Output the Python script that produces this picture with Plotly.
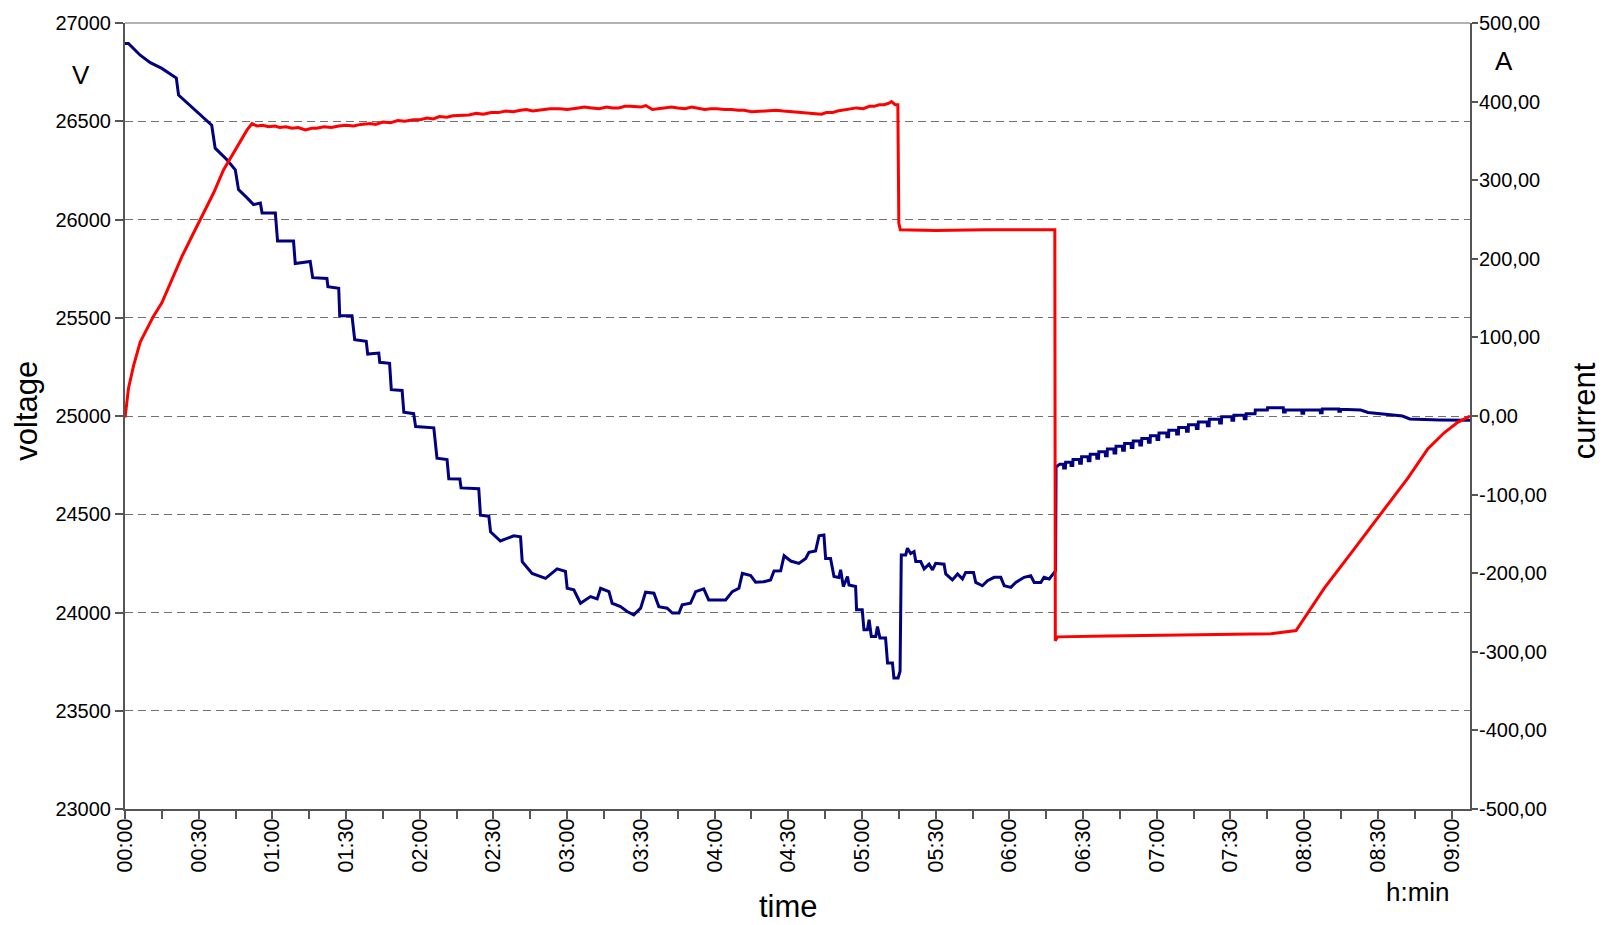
import plotly.graph_objects as go

# ---------------- data ----------------
# time in minutes since start
volt_t = [0, 1.4, 6.2, 10.3, 15.0, 19.8, 20.9, 21.8, 27.9, 34.7, 35.3, 36.7, 41.5, 44.9, 46.2, 49.7,
          52.3, 55.1, 55.8, 61.2, 62.1, 68.6, 69.3, 75.4, 76.4, 82.2, 82.6, 87.0, 87.4, 92.4, 93.5,
          98.2, 98.8, 103.3, 103.7, 107.7, 108.4, 112.8, 113.5, 117.5, 118.3, 125.7, 127.0, 131.1,
          131.8, 136.3, 136.8, 144.0, 144.7, 148.1, 148.8, 152.8, 158.2, 161.0, 161.7, 165.7, 171.2,
          175.9, 179.3, 180.0, 182.7, 185.4, 189.5, 192.2, 193.6, 197.0, 198.3, 201.7, 204.4, 207.1,
          209.9, 211.9, 215.3, 217.3, 220.7, 222.8, 225.5, 226.8, 230.2, 232.3, 235.6, 237.6, 244.5,
          247.2, 249.9, 251.3, 254.7, 256.7, 260.1, 262.8, 264.2, 266.9, 268.3, 271.0, 274.3, 277.1,
          278.4, 281.1, 282.5, 284.5, 285.2, 287.2, 288.6, 290.6, 291.3, 292.4, 294.1, 294.7, 297.4,
          297.8, 300.1, 300.8, 302.2, 302.9, 303.8, 305.6, 306.3, 307.3, 309.6, 310.4, 312.4, 313.0,
          314.7, 315.5, 316.0, 317.8, 318.5, 319.8, 321.2, 321.9, 323.9, 325.3, 327.3, 328.7, 330.0,
          333.4, 334.1, 336.8, 338.9, 340.9, 342.2, 345.4, 346.3, 349.0, 351.1, 353.8, 356.5, 357.9,
          360.6, 362.6, 366.0, 368.7, 370.1, 372.8, 374.1, 376.2, 378.2, 378.8, 379.0, 380.5,
          382.0, 382.1, 382.8, 382.9, 385.0, 385.1, 385.8, 385.9, 388.5, 388.6, 389.3, 389.4,
          392.0, 392.1, 392.8, 392.9, 395.5, 395.6, 396.3, 396.4, 399.0, 399.1, 399.8, 399.9,
          402.5, 402.6, 403.3, 403.4, 406.0, 406.1, 406.8, 406.9, 409.5, 409.6, 410.3, 410.4,
          413.0, 413.1, 413.8, 413.9, 416.5, 416.6, 417.3, 417.4, 420.0, 420.1, 420.8, 420.9,
          424.0, 424.1, 424.8, 424.9, 428.0, 428.1, 428.8, 428.9, 432.0, 432.1, 432.8, 432.9,
          436.0, 436.1, 436.8, 436.9, 440.5, 440.6, 441.3, 441.4, 445.5, 445.6, 446.3, 446.4,
          450.5, 450.6, 451.3, 451.4, 455.5, 455.6, 456.3, 456.4, 460.0, 460.1, 465.0, 465.1,
          471.5, 471.6, 472.3, 472.4, 479.0, 479.1, 479.8, 479.9, 486.5, 486.6, 487.3, 487.4,
          494.0, 494.1, 494.8, 494.9, 503.0, 506.0, 520.0, 523.0, 535.0, 547.5]
volt_v = [26896, 26896, 26836, 26798, 26769, 26727, 26720, 26633, 26566, 26490, 26480, 26363, 26304,
          26253, 26152, 26110, 26076, 26084, 26033, 26033, 25890, 25890, 25776, 25786, 25704, 25700,
          25658, 25650, 25510, 25510, 25388, 25380, 25315, 25320, 25273, 25268, 25134, 25130, 25019,
          25012, 24946, 24940, 24785, 24778, 24681, 24680, 24634, 24630, 24495, 24490, 24411, 24364,
          24390, 24385, 24259, 24199, 24174, 24222, 24209, 24123, 24115, 24047, 24081, 24069, 24123,
          24106, 24047, 24030, 24005, 23988, 24022, 24103, 24098, 24030, 24022, 23997, 23997, 24039,
          24047, 24106, 24120, 24064, 24064, 24106, 24123, 24199, 24188, 24154, 24157, 24166, 24211,
          24212, 24289, 24262, 24250, 24275, 24306, 24313, 24390, 24394, 24275, 24275, 24183, 24178,
          24217, 24132, 24183, 24140, 24132, 24014, 24014, 23912, 23912, 23963, 23878, 23878, 23929,
          23870, 23870, 23743, 23743, 23667, 23667, 23701, 24293, 24293, 24327, 24300, 24310, 24259,
          24259, 24222, 24246, 24217, 24250, 24246, 24196, 24166, 24196, 24171, 24204, 24204, 24153,
          24136, 24162, 24179, 24179, 24136, 24128, 24153, 24179, 24187, 24153, 24153, 24179, 24171,
          24204, 24212, 24740, 24755,
          24755, 24735, 24735, 24765, 24765, 24748, 24748, 24778, 24778, 24760, 24760, 24792,
          24792, 24772, 24772, 24805, 24805, 24785, 24785, 24818, 24818, 24798, 24798, 24832,
          24832, 24812, 24812, 24846, 24846, 24826, 24826, 24860, 24860, 24840, 24840, 24873,
          24873, 24853, 24853, 24886, 24886, 24866, 24866, 24900, 24900, 24880, 24880, 24914,
          24914, 24894, 24894, 24928, 24928, 24908, 24908, 24942, 24942, 24922, 24922, 24956,
          24956, 24936, 24936, 24970, 24970, 24950, 24950, 24984, 24984, 24964, 24964, 24996,
          24996, 24978, 24978, 25004, 25004, 24986, 24986, 25012, 25012, 25030, 25030, 25042,
          25042, 25020, 25020, 25030, 25030, 25014, 25014, 25030, 25030, 25016, 25016, 25036,
          25036, 25024, 25024, 25034, 25030, 25018, 25000, 24985, 24980, 24978]

curr_t = [0, 0.1, 1.4, 3.5, 6.2, 8.9, 11.6, 15.0, 19.1, 23.2, 27.3, 31.3, 36.1, 40.1, 45.6, 49.7,
          51.7, 53.7, 56.0, 58.5, 61.0, 63.0, 65.5, 68.0, 70.5, 73.4, 76.0, 78.0, 81.0, 84.0, 87.0,
          90.0, 93.0, 96.0, 99.9, 102.0, 105.0, 108.0, 111.0, 114.0, 117.4, 120.0, 123.0, 125.5,
          128.0, 131.0, 133.5, 137.0, 140.0, 143.0, 145.9, 149.0, 152.0, 155.0, 158.0, 161.0, 163.4,
          166.0, 170.0, 173.0, 177.0, 180.0, 184.6, 187.0, 190.0, 193.0, 196.0, 198.5, 201.0, 203.5,
          205.8, 208.0, 210.0, 212.0, 214.7, 217.0, 220.0, 222.5, 225.0, 228.0, 230.6, 233.0, 235.9,
          238.5, 241.0, 244.0, 247.0, 249.5, 252.0, 255.0, 258.7, 261.5, 265.0, 268.0, 271.3, 274.0,
          277.0, 280.0, 283.5, 285.5, 288.0, 290.0, 292.0, 295.0, 297.8, 300.5, 303.0, 305.0, 307.0,
          309.0, 310.0, 311.0, 312.0, 313.5, 314.6, 315.0, 315.6, 330.0, 350.0, 370.0, 378.5, 378.7,
          379.6, 400.0, 430.0, 454.3, 466.5, 476.7, 488.2, 500.4, 512.6, 522.2, 530.3, 537.1, 542.5,
          547.5]
curr_a = [0, 0, 35, 64, 94, 111, 127, 144, 174, 203, 229, 254, 284, 313, 343, 364,
          372, 369, 370, 368, 369, 367, 368, 366, 367, 364, 366, 366, 368, 367, 369,
          370, 369, 371, 372, 371, 374, 373, 376, 375, 377, 377, 379, 378,
          381, 380, 382, 383, 383, 385, 384, 386, 386, 388, 387, 389, 390,
          388, 390, 391, 391, 390, 392, 393, 392, 391, 393, 392, 392, 394,
          394, 393, 393, 395, 390, 391, 392, 393, 392, 391, 393, 392, 390,
          391, 391, 390, 390, 389, 389, 387, 388, 388, 389, 388, 387, 387,
          386, 385, 384, 386, 386, 388, 389, 390, 392, 391, 394, 394, 396,
          396, 397, 398, 400, 396, 396, 245, 237, 236, 237, 237, 237, -286,
          -281, -280, -279, -278, -277, -273, -219, -169, -118, -79, -42, -21, -8,
          0]

x_tick_vals = [0, 15, 30, 45, 60, 75, 90, 105, 120, 135, 150, 165, 180, 195, 210, 225, 240, 255,
               270, 285, 300, 315, 330, 345, 360, 375, 390, 405, 420, 435, 450, 465, 480, 495, 510,
               525, 540]
x_tick_text = ["00:00", "", "00:30", "", "01:00", "", "01:30", "", "02:00", "", "02:30", "",
               "03:00", "", "03:30", "", "04:00", "", "04:30", "", "05:00", "", "05:30", "",
               "06:00", "", "06:30", "", "07:00", "", "07:30", "", "08:00", "", "08:30", "", "09:00"]
v_tick_vals = [23000, 23500, 24000, 24500, 25000, 25500, 26000, 26500, 27000]
v_tick_text = ["23000", "23500", "24000", "24500", "25000", "25500", "26000", "26500", "27000"]
a_tick_vals = [-500, -400, -300, -200, -100, 0, 100, 200, 300, 400, 500]
a_tick_text = ["-500,00", "-400,00", "-300,00", "-200,00", "-100,00", "0,00",
               "100,00", "200,00", "300,00", "400,00", "500,00"]

# ---------------- figure ----------------
FONT = "Liberation Sans, Arial, sans-serif"
AXC = "#555555"

fig = go.Figure()
fig.add_trace(go.Scatter(x=volt_t, y=volt_v, mode="lines", yaxis="y",
                         line=dict(color="#000080", width=3), name="voltage"))
fig.add_trace(go.Scatter(x=curr_t, y=curr_a, mode="lines", yaxis="y2",
                         line=dict(color="#FF0000", width=3), name="current"))

fig.update_layout(
    width=1604, height=925,
    margin=dict(l=125, r=134, t=18.5, b=115.5),
    paper_bgcolor="white", plot_bgcolor="white",
    showlegend=False,
    font=dict(family=FONT, color="black", size=20),
    xaxis=dict(range=[0, 547.5], tickmode="array", tickvals=x_tick_vals, ticktext=x_tick_text,
               tickangle=-90, ticks="outside", ticklen=8, tickwidth=1.5, tickcolor=AXC,
               showline=True, linecolor=AXC, linewidth=2, showgrid=False, zeroline=False,
               ticklabelstandoff=-9,
               tickfont=dict(size=21.5, family=FONT)),
    yaxis=dict(range=[23000, 27000], tickmode="array", tickvals=v_tick_vals, ticktext=v_tick_text,
               ticks="outside", ticklen=8, tickwidth=1.5, tickcolor=AXC,
               showline=True, linecolor=AXC, linewidth=2, zeroline=False,
               showgrid=True, gridcolor="#707070", gridwidth=1, griddash="8px,5px",
               tickfont=dict(size=20, family=FONT)),
    yaxis2=dict(range=[-500, 500], overlaying="y", side="right", anchor="x",
                tickmode="array", tickvals=a_tick_vals, ticktext=a_tick_text,
                ticks="outside", ticklen=6, tickwidth=1.5, tickcolor=AXC,
                showline=True, linecolor=AXC, linewidth=2, showgrid=False, zeroline=False,
                ticklabelstandoff=-3,
                tickfont=dict(size=20, family=FONT)),
    yaxis3=dict(range=[-500, 500], overlaying="y", side="right", anchor="x",
                tickmode="array", tickvals=a_tick_vals, showticklabels=False,
                ticks="inside", ticklen=6, tickwidth=1.5, tickcolor=AXC,
                showline=False, showgrid=False, zeroline=False),
)

# top border line
fig.add_shape(type="line", xref="paper", yref="paper", x0=0, x1=1, y0=1, y1=1,
              line=dict(color="#999999", width=1.5))

def label(text, x, y, size, angle=0):
    fig.add_annotation(text=text, x=x, y=y, xref="paper", yref="paper", showarrow=False,
                       xanchor="center", yanchor="middle", textangle=angle,
                       font=dict(family=FONT, size=size, color="black"))

# paper fractions for plot spanning y 18.5..809.5 px, x 125..1470 px
label("voltage", -0.0739, 0.5063, 31, -90)
label("current", 1.0849, 0.5063, 31, -90)
label("time", 0.4931, -0.1245, 31)
label("h:min", 0.9617, -0.1056, 26)
label("V", -0.0327, 0.934, 26)
label("A", 1.0253, 0.9517, 26)

fig.write_html("out.html", config={"displayModeBar": False},
               post_script="document.body.style.margin='0';")
